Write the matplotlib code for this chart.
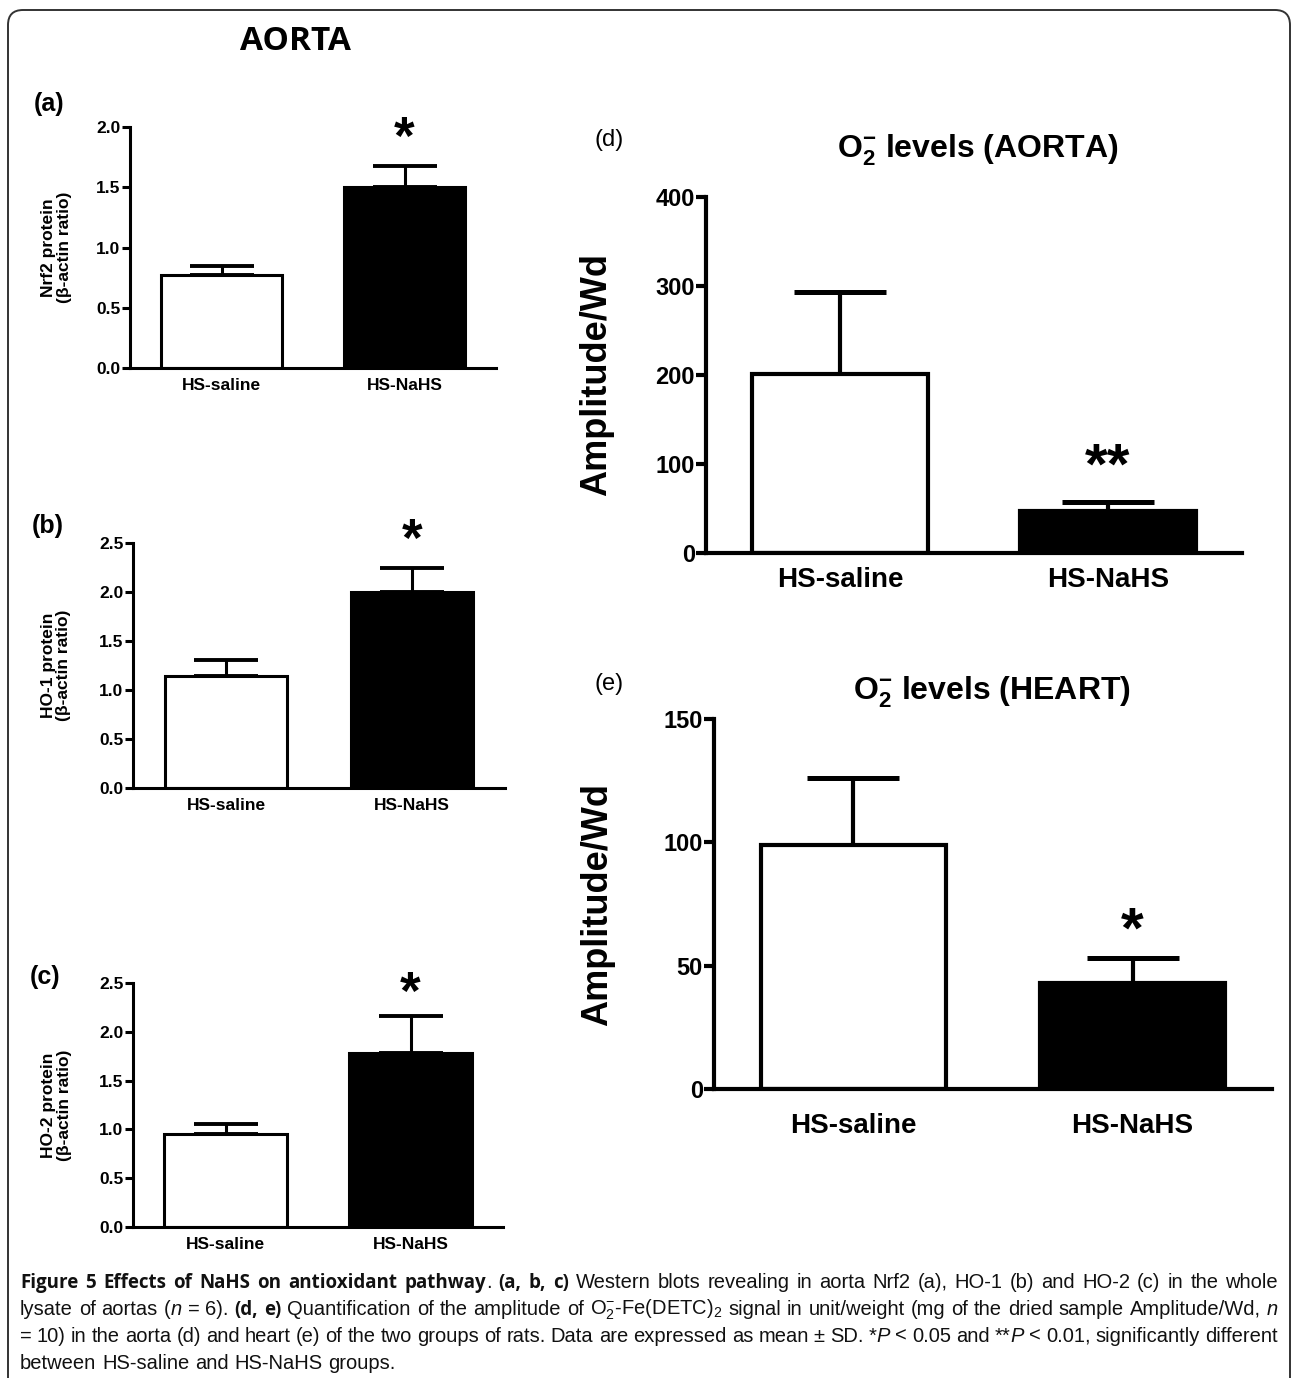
import numpy as np
import matplotlib
matplotlib.use('Agg')
import matplotlib.pyplot as plt
from matplotlib.patches import FancyBboxPatch

# group names and values (mean and upper SD)
groups = ['HS-saline', 'HS-NaHS']
nrf2_mean = [0.77, 1.50]
nrf2_sd = [0.08, 0.18]
ho1_mean = [1.14, 2.00]
ho1_sd = [0.17, 0.24]
ho2_mean = [0.95, 1.78]
ho2_sd = [0.11, 0.38]
o2_aorta_mean = [201, 47]
o2_aorta_sd = [92, 10]
o2_heart_mean = [99, 43]
o2_heart_sd = [27, 10]
# significance marks and the height where they sit
sig_marks = ['*', '*', '*', '**', '*']
sig_height = [1.97, 2.61, 2.48, 107, 68]

plt.rcParams['font.family'] = ['Liberation Sans', 'DejaVu Sans']
plt.rcParams['mathtext.fontset'] = 'custom'
plt.rcParams['mathtext.rm'] = 'Liberation Sans'
plt.rcParams['mathtext.bf'] = 'Liberation Sans:bold'
plt.rcParams['mathtext.it'] = 'Liberation Sans:italic'

W, H = 1293, 1378
fig = plt.figure(figsize=(W/100, H/100), dpi=100)
fig.patch.set_facecolor('white')


def px_rect(l, t, r, b):
	return [l/W, 1 - b/H, (r - l)/W, (b - t)/H]


def panel(rect, means, sds, ymax, yticks, ylabels, ylabel, lab_x, mark, mark_y, big):
	ax = fig.add_axes(rect)
	lw = 3.0 if big else 2.2
	cap = 33 if big else 23
	ax.errorbar([0, 1], means, yerr=[[0, 0], sds], fmt='none', ecolor='black',
				elinewidth=lw, capsize=cap, capthick=lw + 0.6, zorder=1)
	ax.bar([0, 1], means, width=0.66, color=['white', 'black'], edgecolor='black',
		   linewidth=lw, zorder=2)
	ax.set_xlim(-0.5, 1.5)
	ax.set_ylim(0, ymax)
	for s in ['top', 'right']:
		ax.spines[s].set_visible(False)
	for s in ['left', 'bottom']:
		ax.spines[s].set_linewidth(lw)
	ax.spines['left'].set_bounds(0, ymax)
	ax.set_yticks(yticks, ylabels, fontweight='bold', fontsize=17 if big else 12.5)
	ax.tick_params(axis='y', direction='out', length=7 if big else 6, width=lw, pad=1)
	ax.set_xticks([0, 1], groups, fontweight='bold', fontsize=20 if big else 12.5)
	ax.tick_params(axis='x', length=0, pad=10 if big else 7)
	ax.set_ylabel(ylabel, fontweight='bold', fontsize=26 if big else 12.5, va='center',
				  linespacing=1.05)
	ax.yaxis.set_label_coords(lab_x, 0.5)
	fs = 42 if big else 38
	ax.annotate(mark, xy=(1, mark_y), xytext=(0, -0.45*fs), textcoords='offset points',
				ha='center', va='baseline', fontsize=fs, fontweight='bold',
				annotation_clip=False)
	ax.patch.set_alpha(0)
	return ax


panel(px_rect(130, 127, 496, 368), nrf2_mean, nrf2_sd, 2.0, [0, 0.5, 1.0, 1.5, 2.0],
	  ['0.0', '0.5', '1.0', '1.5', '2.0'], 'Nrf2 protein\n(\u03b2-actin ratio)', -0.2,
	  sig_marks[0], sig_height[0], False)
panel(px_rect(133, 543, 505, 788), ho1_mean, ho1_sd, 2.5, [0, 0.5, 1.0, 1.5, 2.0, 2.5],
	  ['0.0', '0.5', '1.0', '1.5', '2.0', '2.5'], 'HO-1 protein\n(\u03b2-actin ratio)', -0.207,
	  sig_marks[1], sig_height[1], False)
panel(px_rect(133, 983, 503, 1227), ho2_mean, ho2_sd, 2.5, [0, 0.5, 1.0, 1.5, 2.0, 2.5],
	  ['0.0', '0.5', '1.0', '1.5', '2.0', '2.5'], 'HO-2 protein\n(\u03b2-actin ratio)', -0.207,
	  sig_marks[2], sig_height[2], False)
panel(px_rect(706, 197, 1242, 553), o2_aorta_mean, o2_aorta_sd, 400, [0, 100, 200, 300, 400],
	  ['0', '100', '200', '300', '400'], 'Amplitude/Wd', -0.205,
	  sig_marks[3], sig_height[3], True)
ax_e = panel(px_rect(714, 719, 1272, 1089), o2_heart_mean, o2_heart_sd, 150, [0, 50, 100, 150],
			 ['0', '50', '100', '150'], 'Amplitude/Wd', -0.208,
			 sig_marks[4], sig_height[4], True)
ax_e.tick_params(axis='x', pad=17)


def ftext(x, y, s, **kw):
	return fig.text(x/W, 1 - y/H, s, **kw)


ftext(295, 42, 'AORTA', fontsize=24, fontweight='bold', family='Open Sans', ha='center', va='center')
for lab, x, y in [('(a)', 34, 104), ('(b)', 32, 526), ('(c)', 30, 977)]:
	ftext(x, y, lab, fontsize=18, fontweight='bold', ha='left', va='center')
ftext(595, 140, '(d)', fontsize=17, ha='left', va='center')
ftext(595, 684, '(e)', fontsize=17, ha='left', va='center')
ftext(978, 150, r'O$_{\mathbf{2}}^{\mathbf{-}}$ levels (AORTA)', fontsize=23, fontweight='bold',
	  ha='center', va='center')
ftext(992, 692, r'O$_{\mathbf{2}}^{\mathbf{-}}$ levels (HEART)', fontsize=23, fontweight='bold',
	  ha='center', va='center')

# frame around the figure
fig.patches.append(FancyBboxPatch((0.08, -0.2), 12.82, 13.88, boxstyle='round,pad=0,rounding_size=0.15',
								  transform=fig.dpi_scale_trans, facecolor='none',
								  edgecolor='#333333', linewidth=1.4))

# caption, laid out word by word and justified
cap_lines = [
	[('Figure 5 Effects of NaHS on antioxidant pathway', 'b'), ('. ', 'r'), ('(a, b, c)', 'b'),
	 (' Western blots revealing in aorta Nrf2 (a), HO-1 (b) and HO-2 (c) in the whole', 'r')],
	[('lysate of aortas (', 'r'), ('n', 'i'), (' = 6). ', 'r'), ('(d, e)', 'b'),
	 (' Quantification of the amplitude of O$_{2}^{-}$-Fe(DETC)$_{2}$ signal in unit/weight '
	  '(mg of the dried sample Amplitude/Wd, ', 'r'), ('n', 'i')],
	[('= 10) in the aorta (d) and heart (e) of the two groups of rats. Data are expressed as '
	  'mean \u00b1 SD. *', 'r'), ('P', 'i'), (' < 0.05 and **', 'r'), ('P', 'i'),
	 (' < 0.01, significantly different', 'r')],
	[('between HS-saline and HS-NaHS groups.', 'r')],
]
cap_y = [1288, 1315, 1342, 1369]
cap_fs = 14.5
x0, x1 = 20, 1278
renderer = fig.canvas.get_renderer()


def words_of(segs):
	words = [[]]
	for text, st in segs:
		parts = text.split(' ')
		for k, p in enumerate(parts):
			if k > 0:
				words.append([])
			if p:
				words[-1].append((p, st))
	return [w for w in words if w]


t1 = ftext(0, 0, 'a a', fontsize=cap_fs)
t2 = ftext(0, 0, 'aa', fontsize=cap_fs)
space_w = t1.get_window_extent(renderer).width - t2.get_window_extent(renderer).width
t1.remove()
t2.remove()

for li, segs in enumerate(cap_lines):
	objs = []
	for w in words_of(segs):
		items = []
		for p, st in w:
			if st == 'b':
				t = ftext(0, cap_y[li], p, fontsize=13.5, va='baseline', color='#111111',
						  fontweight='bold', family='Open Sans')
			else:
				t = ftext(0, cap_y[li], p, fontsize=cap_fs, va='baseline', color='#111111',
						  fontstyle='italic' if st == 'i' else 'normal')
			items.append((t, t.get_window_extent(renderer).width))
		objs.append(items)
	total = sum(sum(wd for _, wd in items) for items in objs)
	if li < len(cap_lines) - 1:
		gap = (x1 - x0 - total)/(len(objs) - 1)
	else:
		gap = space_w
	x = x0
	for items in objs:
		for t, wd in items:
			t.set_x(x/W)
			x += wd
		x += gap

fig.savefig('out.png', dpi=100)
